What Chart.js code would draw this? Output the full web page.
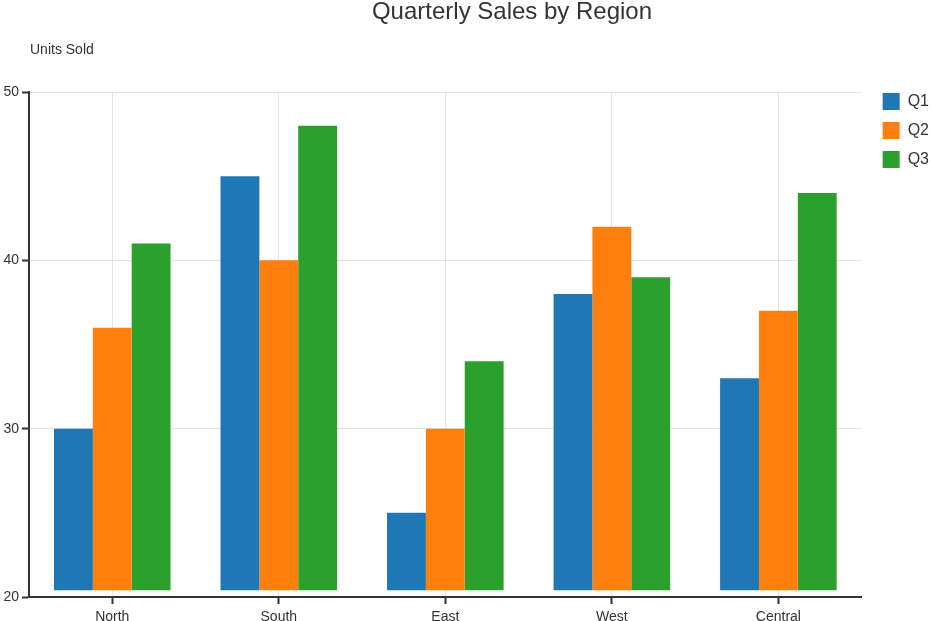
<!DOCTYPE html>
<html>
<head>
<meta charset="utf-8">
<script src="https://cdn.jsdelivr.net/npm/chart.js@4"></script>
<style>
    html, body { margin: 0; padding: 0; background: #fff; }
    #wrap { width: 930px; height: 621px; }
</style>
</head>
<body>
<div id="wrap"><canvas id="salesChart"></canvas></div>
<script>
// Quarterly sales data
const regions = ['North', 'South', 'East', 'West', 'Central'];
const quarters = ['Q1', 'Q2', 'Q3'];
const q1Sales = [30, 45, 25, 38, 33];
const q2Sales = [36, 40, 30, 42, 37];
const q3Sales = [41, 48, 34, 39, 44];
const yTicks = [20, 30, 40, 50];
const barBase = 20.4;

const COLORS = ['#1f77b4', '#ff7f0e', '#2ca02c'];
const TEXT = '#333333';
const FONT = '"Liberation Sans", Arial, Helvetica, sans-serif';

Chart.defaults.font.family = FONT;
Chart.defaults.color = TEXT;

// draws the title and the y-axis caption
const headerText = {
    id: 'headerText',
    afterDraw(chart) {
        const c = chart.ctx;
        c.save();
        c.fillStyle = TEXT;
        c.textBaseline = 'middle';
        c.font = '24px ' + FONT;
        c.textAlign = 'center';
        c.fillText('Quarterly Sales by Region', 512, 12);
        c.font = '14px ' + FONT;
        c.textAlign = 'left';
        c.fillText('Units Sold', chart.chartArea.left + 1, 50);
        c.restore();
    }
};

// nudge the legend so it sits level with the top of the plot
const legendNudge = {
    id: 'legendNudge',
    afterLayout(chart) {
        if (!chart.legend) return;
        chart.legend.left += 9;
        chart.legend.top -= 11;
    }
};

const seriesValues = [q1Sales, q2Sales, q3Sales];

new Chart(document.getElementById('salesChart'), {
    type: 'bar',
    data: {
        labels: regions,
        datasets: quarters.map((q, i) => ({
            label: q,
            data: seriesValues[i],
            base: barBase,
            backgroundColor: COLORS[i],
            borderWidth: 0,
            barPercentage: 1,
            categoryPercentage: 0.7
        }))
    },
    options: {
        responsive: true,
        maintainAspectRatio: false,
        animation: false,
        layout: { padding: { top: 92, left: 0, right: 0, bottom: 0 } },
        plugins: {
            title: { display: false },
            tooltip: { enabled: false },
            legend: {
                position: 'right',
                align: 'start',
                labels: {
                    boxWidth: 17,
                    boxHeight: 17,
                    padding: 12,
                    color: TEXT,
                    font: { size: 16 }
                }
            }
        },
        scales: {
            x: {
                grid: {
                    offset: false,
                    color: '#e3e3e3',
                    tickColor: TEXT,
                    tickLength: 7,
                    tickWidth: 2
                },
                border: { color: TEXT, width: 2 },
                ticks: { color: TEXT, font: { size: 14 }, padding: 5 },
                afterFit: scale => { scale.height = 24; }
            },
            y: {
                min: 20,
                max: 50,
                grid: {
                    color: '#e3e3e3',
                    tickColor: TEXT,
                    tickLength: 7,
                    tickWidth: 2
                },
                border: { color: TEXT, width: 2 },
                afterBuildTicks: scale => { scale.ticks = yTicks.map(v => ({ value: v })); },
                ticks: { color: TEXT, font: { size: 14 }, padding: 3 },
                afterFit: scale => { scale.width = 29; }
            }
        }
    },
    plugins: [headerText, legendNudge]
});
</script>
</body>
</html>
